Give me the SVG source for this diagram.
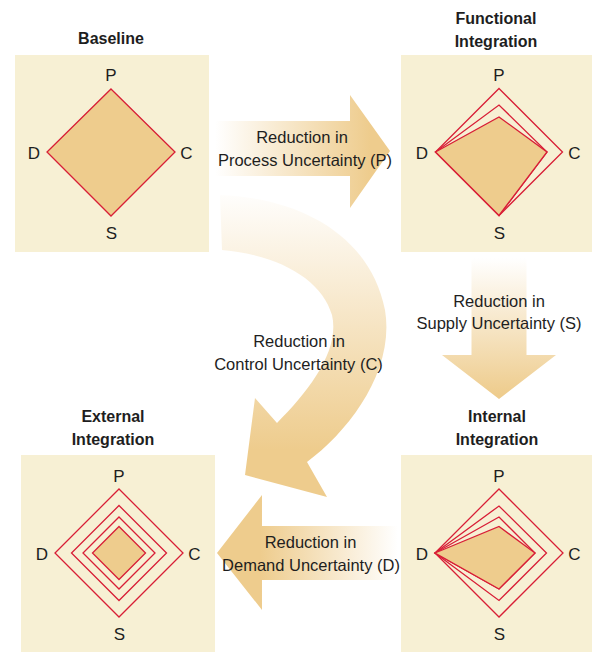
<svg xmlns="http://www.w3.org/2000/svg" width="592" height="652" viewBox="0 0 592 652">
<style>
.box{fill:#F7F0D4}
.dia{fill:none;stroke:#D81E36;stroke-width:1.3;stroke-linejoin:miter}
.fill{fill:#EECC8D;stroke:#D81E36;stroke-width:1.3}
.t{font-family:"Liberation Sans",Arial,sans-serif;font-size:16.5px;fill:#1E1E1E;text-anchor:middle}
.v{font-family:"Liberation Sans",Arial,sans-serif;font-size:17px;fill:#1E1E1E;text-anchor:middle}
.h{font-family:"Liberation Sans",Arial,sans-serif;font-size:16px;font-weight:bold;fill:#1E1E1E;text-anchor:middle}
</style>
<defs>
<linearGradient id="gR" gradientUnits="userSpaceOnUse" x1="215" y1="0" x2="370" y2="0">
<stop offset="0" stop-color="#EECC8D" stop-opacity="0"/>
<stop offset="1" stop-color="#EECC8D"/>
</linearGradient>
<linearGradient id="gD" gradientUnits="userSpaceOnUse" x1="0" y1="258" x2="0" y2="395">
<stop offset="0" stop-color="#EECC8D" stop-opacity="0"/>
<stop offset="1" stop-color="#EECC8D"/>
</linearGradient>
<linearGradient id="gL" gradientUnits="userSpaceOnUse" x1="398" y1="0" x2="260" y2="0">
<stop offset="0" stop-color="#EECC8D" stop-opacity="0"/>
<stop offset="1" stop-color="#EECC8D"/>
</linearGradient>
<linearGradient id="gC" gradientUnits="userSpaceOnUse" x1="0" y1="195" x2="0" y2="450">
<stop offset="0" stop-color="#EECC8D" stop-opacity="0.03"/>
<stop offset="1" stop-color="#EECC8D"/>
</linearGradient>
</defs>

<g id="connectors">
<path d="M215,121 L350,121 L350,95 L390,151 L350,208 L350,176 L215,176 Z" fill="url(#gR)"/>
<path d="M471.5,258 L526.5,258 L526.5,355 L556,355 L499,399 L442,355 L471.5,355 Z" fill="url(#gD)"/>
<path d="M398,526 L262,526 L262,495 L217,553 L262,610 L262,580 L398,580 Z" fill="url(#gL)"/>
<path d="M220,195 C300,198 370,235 385,310 C395,370 350,430 307,462 L327,497 L245,475 L255,398 L277,423 C310,390 340,350 332,315 C322,280 280,255 222,250 Z" fill="url(#gC)"/>
<text class="t" x="302" y="143">Reduction in</text>
<text class="t" x="305" y="166">Process Uncertainty (P)</text>
<text class="t" x="499" y="307">Reduction in</text>
<text class="t" x="499" y="329">Supply Uncertainty (S)</text>
<text class="t" x="299" y="347">Reduction in</text>
<text class="t" x="298.5" y="370">Control Uncertainty (C)</text>
<text class="t" x="310.5" y="548">Reduction in</text>
<text class="t" x="311" y="571">Demand Uncertainty (D)</text>
</g>

<g id="baseline">
<text class="h" x="111" y="44">Baseline</text>
<rect class="box" x="15" y="55" width="194" height="197"/>
<polygon class="fill" points="111,89 175,152 111,216 47,152"/>
<text class="v" x="111" y="80.5">P</text>
<text class="v" x="111.5" y="238.5">S</text>
<text class="v" x="34" y="158.5">D</text>
<text class="v" x="186.5" y="158.5">C</text>
</g>

<g id="functional">
<text class="h" x="496" y="24">Functional</text>
<text class="h" x="496" y="47">Integration</text>
<rect class="box" x="401" y="55" width="194" height="197"/>
<polygon class="dia" points="499,88.5 562.5,152 499,215.5 435.5,152"/>
<polygon class="dia" points="435.5,152 499,105 547,152 499,215.5"/>
<polygon class="fill" points="435.5,152 499,117 547,152 499,215.5"/>
<text class="v" x="499" y="80.5">P</text>
<text class="v" x="499.5" y="238.5">S</text>
<text class="v" x="422" y="158.5">D</text>
<text class="v" x="574.5" y="158.5">C</text>
</g>

<g id="external">
<text class="h" x="113" y="422">External</text>
<text class="h" x="113" y="444.5">Integration</text>
<rect class="box" x="21" y="455" width="194" height="197"/>
<polygon class="dia" points="119,489 183,553 119,617 55,553"/>
<polygon class="dia" points="119,505.5 166.5,553 119,600.5 71.5,553"/>
<polygon class="dia" points="119,517 155,553 119,589 83,553"/>
<polygon class="fill" points="119,526.5 145.5,553 119,579.5 92.5,553"/>
<text class="v" x="119" y="481.5">P</text>
<text class="v" x="119.5" y="639.5">S</text>
<text class="v" x="42" y="559.5">D</text>
<text class="v" x="194.5" y="559.5">C</text>
</g>

<g id="internal">
<text class="h" x="497" y="422">Internal</text>
<text class="h" x="497" y="444.5">Integration</text>
<rect class="box" x="401" y="455" width="194" height="197"/>
<polygon class="dia" points="499,489 563,553 499,617 435,553"/>
<polygon class="dia" points="435,553 499,506 546.5,553 499,600.5"/>
<polygon class="dia" points="435,553 499,517 535,553 499,589"/>
<polygon class="fill" points="435,553 499,526.5 535,553 499,589"/>
<text class="v" x="499" y="481.5">P</text>
<text class="v" x="499.5" y="639.5">S</text>
<text class="v" x="422" y="559.5">D</text>
<text class="v" x="574.5" y="559.5">C</text>
</g>
</svg>
